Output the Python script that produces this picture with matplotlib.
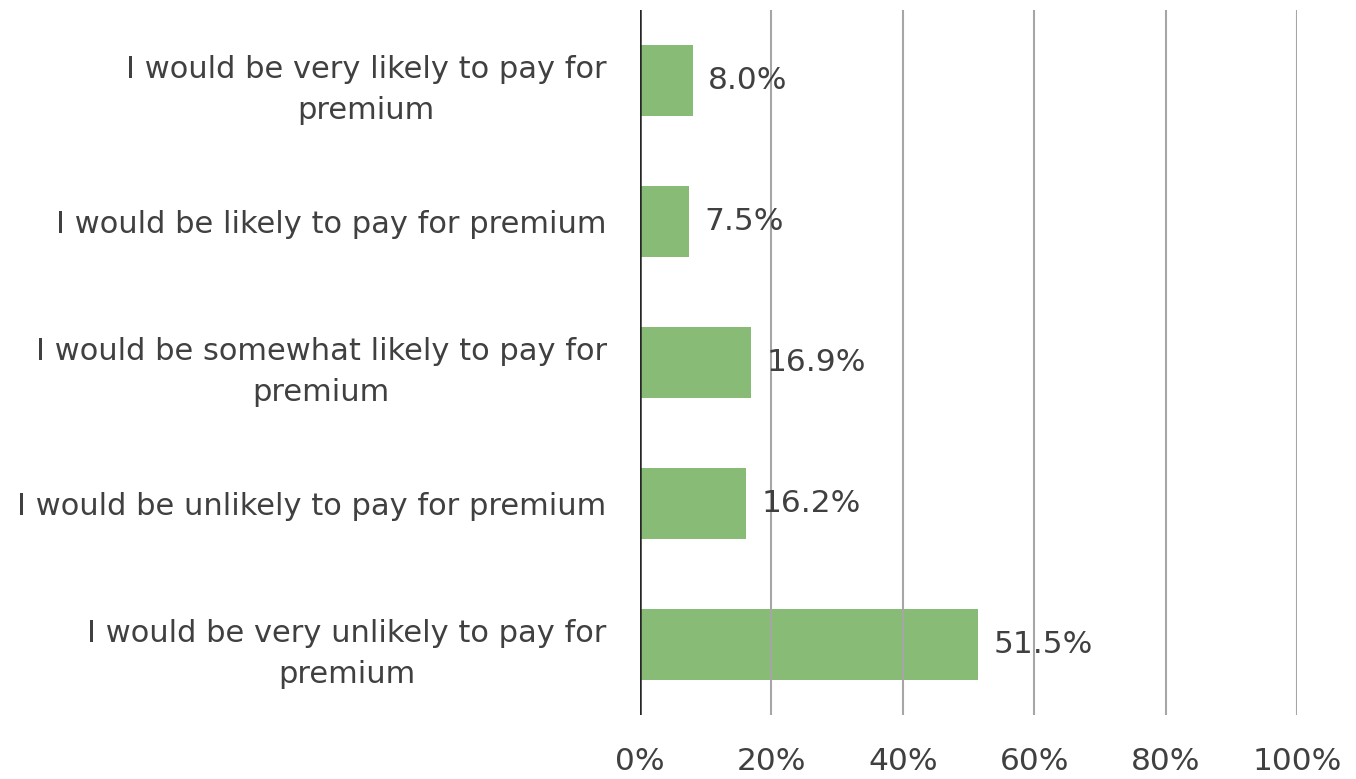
import numpy as np
import matplotlib
matplotlib.use('Agg')
import matplotlib.pyplot as plt

# Datos
categorias = [
    'I would be very likely to pay for\npremium',
    'I would be likely to pay for premium',
    'I would be somewhat likely to pay for\npremium',
    'I would be unlikely to pay for premium',
    'I would be very unlikely to pay for\npremium',
]
valores = [8.0, 7.5, 16.9, 16.2, 51.5]
ticks_x = [0, 20, 40, 60, 80, 100]
etiquetas_x = ['0%', '20%', '40%', '60%', '80%', '100%']

texto = '#404040'
verde = '#87BB76'

plt.rcParams['font.family'] = ['DejaVu Sans']

fig = plt.figure(figsize=(13.56, 7.79), dpi=100)
ax = fig.add_axes([640 / 1356, 64 / 779, 657 / 1356, 705 / 779])

y = np.arange(len(categorias))
ax.barh(y, valores, height=0.5, color=verde, zorder=1)
ax.set_ylim(len(categorias) - 0.5, -0.5)
ax.set_xlim(0, 100)

# Rejilla vertical encima de las barras
for t in ticks_x[1:]:
    ax.axvline(t, color='#a6a6a6', linewidth=1.5, zorder=2)
ax.axvline(0, color='#262626', linewidth=1.8, zorder=3)

for yi, v in zip(y, valores):
    ax.annotate(f'{v:.1f}%', (v, yi), xytext=(11, 0), textcoords='offset points',
                va='center', ha='left', fontsize=22.5, color=texto, zorder=4)

ax.set_yticks(y)
ax.set_yticklabels(categorias, fontsize=22, color=texto, ha='right',
                   multialignment='center', linespacing=1.55)
ax.tick_params(axis='y', length=0, pad=24)
ax.set_xticks(ticks_x)
ax.set_xticklabels(etiquetas_x, fontsize=22.5, color=texto)
ax.tick_params(axis='x', length=0, pad=23)

for s in ax.spines.values():
    s.set_visible(False)

plt.savefig('out.png', dpi=100)
plt.close()
